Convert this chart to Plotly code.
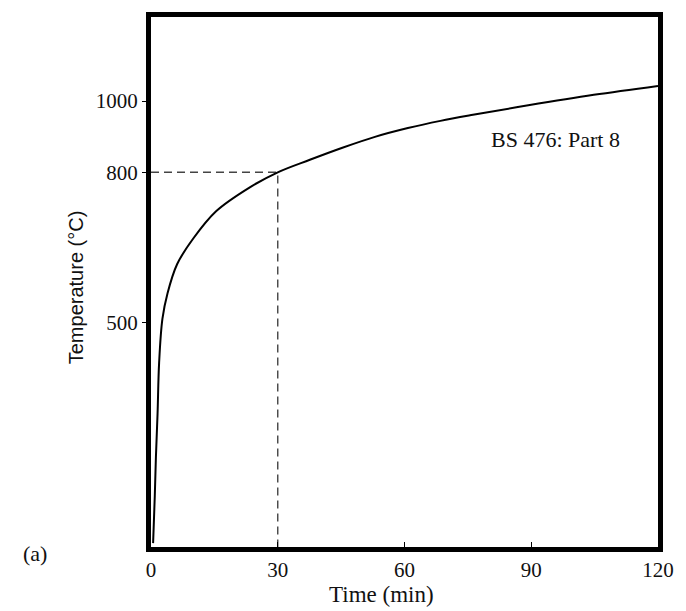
import math
import plotly.graph_objects as go

# ---- data ----
time_min = [0.5, 0.9, 1.16, 1.55, 1.92, 2.7, 3.9, 6.2, 10.0, 15.4, 23.2, 30.0,
            37.6, 45.3, 53.0, 60.8, 68.5, 76.2, 89.3, 104.8, 120.0]
temp_c = [250, 290, 327, 375, 440, 505, 547, 600, 650, 708, 762, 800,
          832, 864, 894, 919, 940, 958, 987, 1020, 1049]

x_ticks = [0, 30, 60, 90, 120]
y_ticks = [500, 800, 1000]
mark_time = 30
mark_temp = 800
curve_label = "BS 476: Part 8"
x_title = "Time (min)"
y_title = "Temperature (°C)"
panel_label = "(a)"

y_min, y_max = 247, 1302

serif = "Liberation Serif, Times New Roman, serif"
sans = "Liberation Sans, Arial, sans-serif"
ink = "#111111"

fig = go.Figure()

# dashed guide lines at 30 min / 800 °C
fig.add_trace(go.Scatter(
    x=[0, mark_time, mark_time], y=[mark_temp, mark_temp, y_min],
    mode="lines", line=dict(color="#444444", width=1.4, dash="8px,5px"),
    hoverinfo="skip", showlegend=False))

fig.add_trace(go.Scatter(
    x=time_min, y=temp_c, mode="lines",
    line=dict(color="black", width=2, shape="spline", smoothing=1.0),
    showlegend=False))

fig.add_annotation(x=95.7, y=math.log10(886), xref="x", yref="y",
                   text=curve_label, showarrow=False,
                   font=dict(family=serif, size=22, color=ink))
fig.add_annotation(x=-0.257, y=-0.012, xref="paper", yref="paper",
                   text=panel_label, showarrow=False, xanchor="left", yanchor="middle",
                   font=dict(family=serif, size=22, color=ink))
fig.add_annotation(x=0.4556, y=-0.0897, xref="paper", yref="paper",
                   text=x_title, showarrow=False, xanchor="center", yanchor="middle",
                   font=dict(family=serif, size=23, color=ink))
fig.add_annotation(x=-0.148, y=0.49, xref="paper", yref="paper",
                   text=y_title, showarrow=False, textangle=-90,
                   xanchor="center", yanchor="middle",
                   font=dict(family=sans, size=20, color=ink))

fig.update_layout(
    width=686, height=611,
    margin=dict(l=151, r=17, t=12, b=64),
    paper_bgcolor="white", plot_bgcolor="white",
)
fig.update_xaxes(
    range=[0, 120], tickvals=x_ticks, ticks="inside", ticklen=5,
    tickcolor="black", showgrid=False, zeroline=False,
    showline=True, linecolor="black", linewidth=5, mirror=True,
    tickfont=dict(family=serif, size=21, color=ink),
)
fig.update_yaxes(
    type="log", range=[math.log10(y_min), math.log10(y_max)],
    tickvals=y_ticks, ticktext=[str(v) for v in y_ticks],
    ticks="outside", ticklen=4, tickcolor="black",
    showgrid=False, zeroline=False,
    showline=True, linecolor="black", linewidth=5, mirror=True,
    tickfont=dict(family=serif, size=21, color=ink),
)

fig.write_html("out.html")
